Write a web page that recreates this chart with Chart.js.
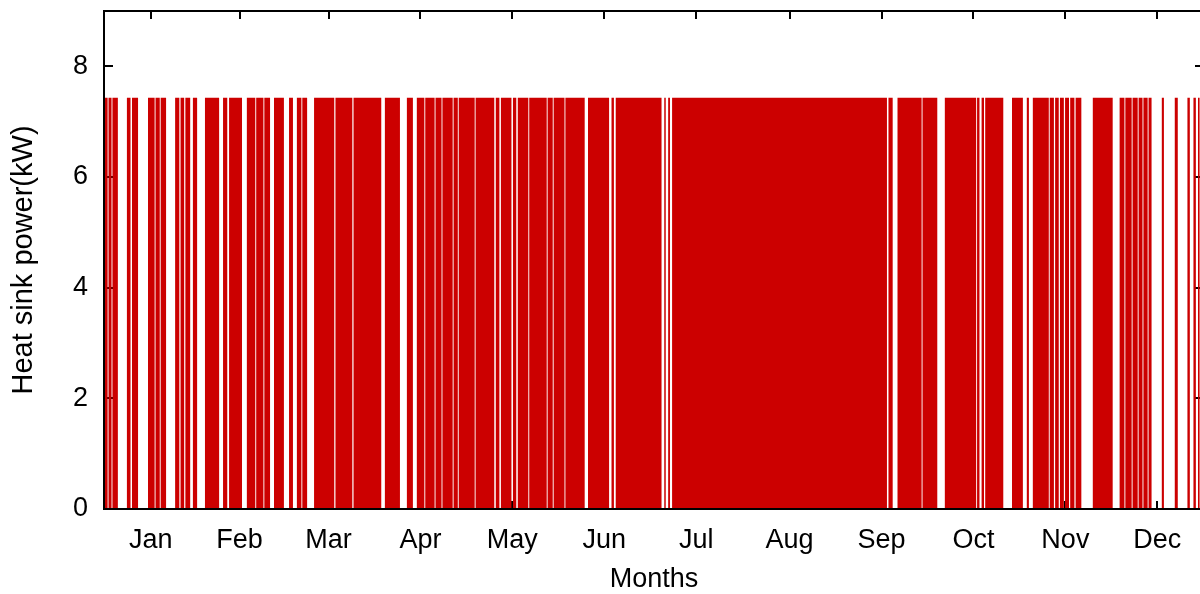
<!DOCTYPE html>
<html>
<head>
<meta charset="utf-8">
<title>Heat sink power</title>
<script src="https://cdn.jsdelivr.net/npm/chart.js@4.4.1/dist/chart.umd.min.js"></script>
<style>
  html, body { margin: 0; padding: 0; background: #fff; overflow: hidden; }
  #wrap { position: relative; width: 1212px; height: 594px; }
</style>
</head>
<body>
<div id="wrap"><canvas id="sinkChart"></canvas></div>
<script>
// heat sink on/off over one year (day of year)
var POWER = 7.43; // kW, plateau when the sink is running

var monthNames = ['Jan', 'Feb', 'Mar', 'Apr', 'May', 'Jun', 'Jul', 'Aug', 'Sep', 'Oct', 'Nov', 'Dec'];
var monthMid = [15.5, 45, 74.5, 105, 135.5, 166, 196.5, 227.5, 258, 288.5, 319, 349.5];
var yTicks = [0, 2, 4, 6, 8];

// periods [start, end] in days where the sink runs at full power
var onPeriods = [
  [0.3, 1.2], [1.5, 2.5], [2.8, 4.6],
  [7.6, 8.8], [9.3, 11.3],
  [14.6, 16.8], [17.1, 18.5], [18.8, 20.6],
  [23.6, 25.0], [25.4, 26.6], [27.0, 28.6], [29.5, 30.9],
  [33.5, 38.2],
  [39.5, 40.9], [41.5, 45.8],
  [47.4, 50.2], [50.5, 52.9], [53.2, 55.1],
  [56.4, 59.7],
  [61.4, 62.7],
  [64.0, 65.5], [65.8, 67.4],
  [69.7, 76.4], [76.8, 82.4], [82.8, 92.0],
  [93.2, 98.2],
  [100.5, 102.5],
  [103.8, 106.3], [106.6, 109.7], [110.0, 112.0], [112.3, 115.7], [116.0, 117.4], [117.7, 123.0],
  [123.3, 129.5], [130.0, 131.2], [131.7, 135.2], [135.7, 136.8], [137.3, 140.8], [141.1, 146.9],
  [147.2, 148.9], [149.2, 152.8], [153.1, 159.5],
  [160.6, 167.6], [168.4, 169.2], [169.8, 185.0],
  [185.9, 186.4], [187.2, 187.8], [188.5, 259.8],
  [260.3, 261.7],
  [263.3, 271.3], [271.6, 276.5],
  [279.0, 289.4],
  [289.7, 290.5], [291.2, 292.0], [292.4, 298.4],
  [301.3, 304.9],
  [306.2, 306.9],
  [308.2, 313.5], [313.8, 315.2], [315.6, 316.8], [317.2, 318.5], [318.9, 320.2],
  [320.6, 322.0], [322.4, 324.3],
  [328.1, 334.7],
  [337.0, 338.6], [338.9, 341.0], [341.3, 343.0], [343.3, 344.6], [344.9, 346.3], [346.6, 347.6],
  [351.0, 351.7],
  [355.3, 356.3],
  [359.5, 360.3], [361.5, 362.3], [363.0, 363.6]
];

// turn periods into a stepped outline: off -> on -> on -> off
var points = [];
onPeriods.forEach(function (p) {
  points.push({ x: p[0], y: 0 }, { x: p[0], y: POWER }, { x: p[1], y: POWER }, { x: p[1], y: 0 });
});

var FONT = 'Liberation Sans, Arial, Helvetica, sans-serif';

// gnuplot-like frame with inward ticks
var framePlugin = {
  id: 'frame',
  beforeDatasetsDraw: function (chart) {
    var ctx = chart.ctx, a = chart.chartArea;
    var xs = chart.scales.x, ys = chart.scales.y;
    ctx.save();
    ctx.strokeStyle = '#000';
    ctx.lineWidth = 2;
    ctx.beginPath();
    monthMid.forEach(function (v) {
      var px = Math.round(xs.getPixelForValue(v));
      ctx.moveTo(px, a.top); ctx.lineTo(px, a.top + 8);
      ctx.moveTo(px, a.bottom); ctx.lineTo(px, a.bottom - 8);
    });
    yTicks.forEach(function (v) {
      var py = Math.round(ys.getPixelForValue(v));
      ctx.moveTo(a.left, py); ctx.lineTo(a.left + 9, py);
      ctx.moveTo(a.right, py); ctx.lineTo(a.right - 9, py);
    });
    ctx.stroke();
    ctx.restore();
  },
  afterDatasetsDraw: function (chart) {
    var ctx = chart.ctx, a = chart.chartArea;
    ctx.save();
    ctx.strokeStyle = '#000';
    ctx.lineWidth = 2;
    ctx.strokeRect(a.left, a.top, a.right - a.left, a.bottom - a.top);
    ctx.restore();
  }
};

new Chart(document.getElementById('sinkChart').getContext('2d'), {
  type: 'line',
  data: {
    datasets: [{
      label: 'Heat sink power',
      data: points,
      backgroundColor: '#cc0000',
      borderColor: 'rgba(0,0,0,0)',
      borderWidth: 0,
      fill: 'origin',
      tension: 0,
      pointRadius: 0
    }]
  },
  options: {
    responsive: true,
    maintainAspectRatio: false,
    animation: false,
    events: [],
    layout: { padding: { top: 11, right: 8, left: 0, bottom: 0 } },
    plugins: { legend: { display: false }, tooltip: { enabled: false } },
    scales: {
      x: {
        type: 'linear',
        min: 0,
        max: 365,
        grid: { display: false },
        border: { display: false },
        afterFit: function (s) { s.height = 85; s.paddingLeft = 0; s.paddingRight = 0; },
        afterBuildTicks: function (s) {
          s.ticks = monthMid.map(function (v) { return { value: v }; });
        },
        ticks: {
          autoSkip: false,
          maxRotation: 0,
          padding: 7,
          color: '#000',
          font: { family: FONT, size: 27 },
          callback: function (v, i) { return monthNames[i]; }
        },
        title: {
          display: true,
          text: 'Months',
          color: '#000',
          font: { family: FONT, size: 27, lineHeight: 1.1 },
          padding: { top: 0, bottom: 0 }
        }
      },
      y: {
        min: 0,
        max: 9,
        grid: { display: false },
        border: { display: false },
        afterFit: function (s) { s.width = 104; s.paddingTop = 0; s.paddingBottom = 0; },
        ticks: {
          stepSize: 2,
          includeBounds: false,
          padding: 8,
          color: '#000',
          font: { family: FONT, size: 27 }
        },
        title: {
          display: true,
          text: 'Heat sink power(kW)',
          color: '#000',
          font: { family: FONT, size: 29 },
          padding: { top: 7, bottom: 0 }
        }
      }
    }
  },
  plugins: [framePlugin]
});
</script>
</body>
</html>
